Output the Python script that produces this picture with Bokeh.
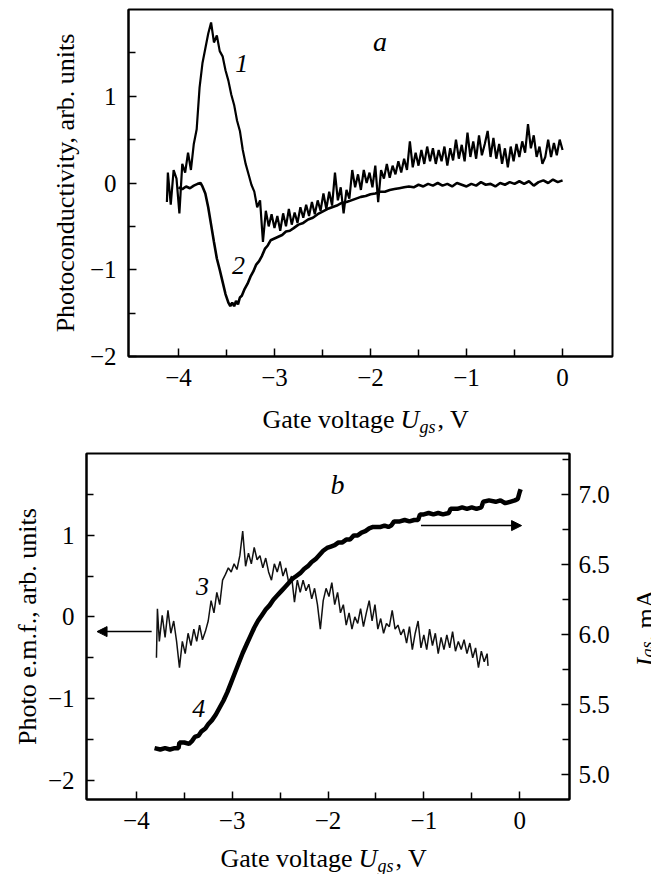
from bokeh.plotting import figure
from bokeh.models import (Range1d, LinearAxis, FixedTicker, CustomJSTickFormatter,
                          Label, Arrow, NormalHead)
from bokeh.layouts import row
from bokeh.core.properties import value
from bokeh.embed import file_html
from bokeh.resources import INLINE

FONT = "Liberation Serif"

# ---------------- data ----------------
# panel a, curve 1: photoconductivity (x = gate voltage, V)
curve1 = [(-4.12, -0.22), (-4.11, 0.12), (-4.08, -0.25), (-4.05, 0.15), (-4.02, 0.05),
          (-3.99, -0.35), (-3.96, 0.22), (-3.93, 0.12), (-3.90, 0.35), (-3.87, 0.15),
          (-3.84, 0.45), (-3.81, 0.62), (-3.78, 1.10), (-3.75, 1.38), (-3.72, 1.55),
          (-3.69, 1.72), (-3.66, 1.85), (-3.63, 1.62), (-3.60, 1.70), (-3.57, 1.52),
          (-3.54, 1.46), (-3.51, 1.30), (-3.48, 1.18), (-3.45, 1.02), (-3.42, 0.90),
          (-3.39, 0.72), (-3.36, 0.60), (-3.33, 0.38), (-3.30, 0.22), (-3.27, 0.10),
          (-3.24, -0.02), (-3.21, -0.10), (-3.18, -0.28), (-3.15, -0.20), (-3.12, -0.68),
          (-3.09, -0.32), (-3.06, -0.50), (-3.03, -0.36), (-3.00, -0.52), (-2.97, -0.38),
          (-2.94, -0.55), (-2.91, -0.35), (-2.88, -0.50), (-2.85, -0.30), (-2.82, -0.48),
          (-2.79, -0.34), (-2.76, -0.46), (-2.73, -0.28), (-2.70, -0.40), (-2.67, -0.25),
          (-2.64, -0.38), (-2.61, -0.22), (-2.58, -0.36), (-2.55, -0.20), (-2.52, -0.32),
          (-2.49, -0.12), (-2.46, -0.30), (-2.43, -0.10), (-2.40, -0.26), (-2.37, 0.12),
          (-2.34, -0.20), (-2.31, -0.05), (-2.28, -0.35), (-2.25, -0.08), (-2.22, -0.18),
          (-2.19, 0.15), (-2.16, -0.05), (-2.13, 0.10), (-2.10, -0.08), (-2.07, 0.15),
          (-2.04, 0.00), (-2.01, 0.12), (-1.98, -0.05), (-1.95, 0.20), (-1.92, -0.22),
          (-1.89, 0.15), (-1.86, 0.05), (-1.83, 0.22), (-1.80, 0.06), (-1.77, 0.20),
          (-1.74, 0.10), (-1.71, 0.25), (-1.68, 0.12), (-1.65, 0.28), (-1.62, 0.15),
          (-1.59, 0.48), (-1.56, 0.18), (-1.53, 0.35), (-1.50, 0.20), (-1.47, 0.38),
          (-1.44, 0.22), (-1.41, 0.42), (-1.38, 0.25), (-1.35, 0.40), (-1.32, 0.22),
          (-1.29, 0.38), (-1.26, 0.25), (-1.23, 0.42), (-1.20, 0.20), (-1.17, 0.40),
          (-1.14, 0.26), (-1.11, 0.50), (-1.08, 0.28), (-1.05, 0.44), (-1.02, 0.25),
          (-0.99, 0.58), (-0.96, 0.30), (-0.93, 0.48), (-0.90, 0.28), (-0.87, 0.55),
          (-0.84, 0.32), (-0.81, 0.45), (-0.78, 0.60), (-0.75, 0.30), (-0.72, 0.52),
          (-0.69, 0.28), (-0.66, 0.45), (-0.63, 0.22), (-0.60, 0.40), (-0.57, 0.18),
          (-0.54, 0.42), (-0.51, 0.25), (-0.48, 0.45), (-0.45, 0.30), (-0.42, 0.48),
          (-0.39, 0.35), (-0.36, 0.68), (-0.33, 0.40), (-0.30, 0.55), (-0.27, 0.30),
          (-0.24, 0.42), (-0.21, 0.22), (-0.18, 0.30), (-0.15, 0.50), (-0.12, 0.30),
          (-0.09, 0.46), (-0.06, 0.32), (-0.03, 0.50), (0.00, 0.38)]

# panel a, curve 2
curve2 = [(-4.00, -0.05), (-3.96, -0.07), (-3.92, -0.04), (-3.88, -0.06), (-3.84, -0.03),
          (-3.80, -0.01), (-3.77, 0.00), (-3.75, -0.04), (-3.72, -0.12), (-3.69, -0.28),
          (-3.66, -0.48), (-3.63, -0.68), (-3.60, -0.87), (-3.57, -1.00), (-3.54, -1.14),
          (-3.51, -1.28), (-3.48, -1.38), (-3.46, -1.42), (-3.44, -1.38), (-3.42, -1.42),
          (-3.40, -1.36), (-3.38, -1.40), (-3.36, -1.32), (-3.34, -1.30), (-3.31, -1.22),
          (-3.28, -1.16), (-3.25, -1.08), (-3.22, -1.02), (-3.19, -0.94), (-3.16, -0.90),
          (-3.13, -0.84), (-3.10, -0.76), (-3.07, -0.72), (-3.04, -0.66), (-3.00, -0.64),
          (-2.96, -0.62), (-2.92, -0.60), (-2.88, -0.56), (-2.84, -0.55), (-2.80, -0.52),
          (-2.75, -0.48), (-2.70, -0.46), (-2.65, -0.42), (-2.60, -0.40), (-2.55, -0.36),
          (-2.50, -0.33), (-2.45, -0.30), (-2.40, -0.28), (-2.35, -0.26), (-2.30, -0.23),
          (-2.25, -0.22), (-2.20, -0.20), (-2.15, -0.18), (-2.10, -0.16), (-2.05, -0.15),
          (-2.00, -0.13), (-1.95, -0.12), (-1.90, -0.10), (-1.85, -0.10), (-1.80, -0.08),
          (-1.75, -0.07), (-1.70, -0.06), (-1.65, -0.05), (-1.60, -0.04), (-1.55, -0.05),
          (-1.50, -0.02), (-1.45, -0.04), (-1.40, -0.01), (-1.35, -0.03), (-1.30, 0.00),
          (-1.25, -0.03), (-1.20, -0.01), (-1.15, -0.04), (-1.10, 0.00), (-1.05, -0.02),
          (-1.00, -0.04), (-0.95, -0.01), (-0.90, -0.03), (-0.85, 0.01), (-0.80, -0.02),
          (-0.75, -0.01), (-0.70, -0.04), (-0.65, 0.00), (-0.60, -0.02), (-0.55, 0.01),
          (-0.50, -0.01), (-0.45, 0.02), (-0.40, -0.01), (-0.35, 0.02), (-0.30, -0.03),
          (-0.25, 0.01), (-0.20, 0.03), (-0.15, 0.00), (-0.10, 0.04), (-0.05, 0.01),
          (0.00, 0.03)]

# panel b, curve 3: photo e.m.f. (left axis)
curve3 = [(-3.79, -0.50), (-3.78, 0.10), (-3.76, -0.30), (-3.73, 0.02), (-3.70, -0.25),
          (-3.67, 0.08), (-3.64, -0.20), (-3.61, -0.05), (-3.58, -0.30), (-3.55, -0.62),
          (-3.52, -0.30), (-3.49, -0.45), (-3.46, -0.20), (-3.43, -0.35), (-3.40, -0.15),
          (-3.37, -0.30), (-3.34, -0.10), (-3.31, -0.28), (-3.28, -0.18), (-3.25, -0.05),
          (-3.22, 0.20), (-3.19, 0.05), (-3.16, 0.30), (-3.13, 0.15), (-3.10, 0.45),
          (-3.07, 0.52), (-3.04, 0.60), (-3.01, 0.55), (-2.98, 0.65), (-2.95, 0.58),
          (-2.92, 0.75), (-2.89, 1.05), (-2.86, 0.62), (-2.83, 0.78), (-2.80, 0.65),
          (-2.77, 0.85), (-2.74, 0.70), (-2.71, 0.75), (-2.68, 0.60), (-2.65, 0.72),
          (-2.62, 0.55), (-2.59, 0.45), (-2.56, 0.65), (-2.53, 0.55), (-2.50, 0.68),
          (-2.47, 0.50), (-2.44, 0.60), (-2.41, 0.42), (-2.38, 0.50), (-2.35, 0.18),
          (-2.32, 0.45), (-2.29, 0.30), (-2.26, 0.45), (-2.23, 0.32), (-2.20, 0.40),
          (-2.17, 0.22), (-2.14, 0.35), (-2.11, 0.15), (-2.08, -0.15), (-2.05, 0.20),
          (-2.02, 0.35), (-1.99, 0.25), (-1.96, 0.42), (-1.93, 0.15), (-1.90, 0.30),
          (-1.87, 0.05), (-1.84, 0.15), (-1.81, -0.10), (-1.78, 0.05), (-1.75, -0.15),
          (-1.72, 0.00), (-1.69, -0.08), (-1.66, 0.10), (-1.63, -0.12), (-1.60, 0.05),
          (-1.57, 0.20), (-1.54, -0.05), (-1.51, 0.15), (-1.48, -0.15), (-1.45, -0.02),
          (-1.42, -0.20), (-1.39, -0.08), (-1.36, -0.12), (-1.33, 0.08), (-1.30, -0.15),
          (-1.27, -0.10), (-1.24, -0.22), (-1.21, -0.15), (-1.18, -0.32), (-1.15, -0.12),
          (-1.12, -0.40), (-1.09, -0.20), (-1.06, -0.05), (-1.03, -0.38), (-1.00, -0.22),
          (-0.97, -0.40), (-0.94, -0.15), (-0.91, -0.35), (-0.88, -0.20), (-0.85, -0.45),
          (-0.82, -0.25), (-0.79, -0.40), (-0.76, -0.22), (-0.73, -0.38), (-0.70, -0.18),
          (-0.67, -0.42), (-0.64, -0.30), (-0.61, -0.40), (-0.58, -0.28), (-0.55, -0.45),
          (-0.52, -0.32), (-0.49, -0.50), (-0.46, -0.38), (-0.43, -0.62), (-0.40, -0.42),
          (-0.37, -0.55), (-0.34, -0.45), (-0.33, -0.60)]

# panel b, curve 4: gate current I_gs, mA (right axis)
curve4 = [(-3.81, 5.19), (-3.75, 5.18), (-3.70, 5.19), (-3.65, 5.18), (-3.60, 5.19),
          (-3.56, 5.19), (-3.55, 5.23), (-3.50, 5.23), (-3.45, 5.22), (-3.42, 5.24),
          (-3.39, 5.27), (-3.35, 5.28), (-3.32, 5.31), (-3.28, 5.33), (-3.25, 5.36),
          (-3.21, 5.39), (-3.17, 5.43), (-3.13, 5.48), (-3.09, 5.53), (-3.05, 5.59),
          (-3.01, 5.66), (-2.97, 5.73), (-2.93, 5.80), (-2.89, 5.87), (-2.85, 5.93),
          (-2.81, 5.99), (-2.77, 6.05), (-2.73, 6.10), (-2.69, 6.14), (-2.65, 6.18),
          (-2.61, 6.21), (-2.57, 6.25), (-2.53, 6.28), (-2.49, 6.31), (-2.45, 6.34),
          (-2.41, 6.37), (-2.37, 6.40), (-2.33, 6.42), (-2.29, 6.44), (-2.25, 6.47),
          (-2.21, 6.49), (-2.17, 6.52), (-2.13, 6.54), (-2.09, 6.57), (-2.05, 6.60),
          (-2.01, 6.62), (-1.97, 6.63), (-1.93, 6.64), (-1.89, 6.66), (-1.85, 6.66),
          (-1.81, 6.68), (-1.77, 6.68), (-1.73, 6.71), (-1.69, 6.71), (-1.65, 6.73),
          (-1.61, 6.74), (-1.57, 6.76), (-1.53, 6.77), (-1.49, 6.77), (-1.45, 6.77),
          (-1.41, 6.78), (-1.37, 6.77), (-1.34, 6.78), (-1.31, 6.81), (-1.25, 6.81),
          (-1.20, 6.82), (-1.15, 6.81), (-1.10, 6.82), (-1.06, 6.82), (-1.04, 6.86),
          (-1.00, 6.86), (-0.95, 6.87), (-0.90, 6.86), (-0.85, 6.87), (-0.80, 6.86),
          (-0.74, 6.87), (-0.72, 6.90), (-0.65, 6.90), (-0.60, 6.91), (-0.55, 6.90),
          (-0.50, 6.91), (-0.45, 6.90), (-0.40, 6.91), (-0.38, 6.95), (-0.32, 6.96),
          (-0.25, 6.95), (-0.20, 6.96), (-0.15, 6.94), (-0.10, 6.95), (-0.05, 6.96),
          (-0.02, 6.97), (0.00, 7.02), (0.01, 7.04)]

x_ticks = [-4, -3, -2, -1, 0]
x_minor = [-3.5, -2.5, -1.5, -0.5]
ya_ticks = [-2, -1, 0, 1]
ya_minor = [-1.5, -0.5, 0.5, 1.5]
yb_ticks = [-2, -1, 0, 1]
yb_minor = [-1.5, -0.5, 0.5, 1.5]
yr_ticks = [5.0, 5.5, 6.0, 6.5, 7.0]
yr_minor = [5.25, 5.75, 6.25, 6.75, 7.25]

xa_range = (-4.52, 0.52)
ya_range = (-2.0, 2.0)
yb_range = (-2.235, 2.0)
yr_range = (4.823, 7.295)


# ---------------- helpers ----------------
def fmt(d):
    return CustomJSTickFormatter(code="const s = Math.abs(tick).toFixed(%d);"
                                      "return (tick < -1e-9 ? '\\u2212' : '') + s;" % d)


def style_axis(ax, ticks, minor, digits, standoff=12):
    ax.ticker = FixedTicker(ticks=ticks, minor_ticks=minor)
    ax.formatter = fmt(digits)
    ax.major_label_text_font = FONT
    ax.major_label_text_font_size = "25px"
    ax.major_label_text_color = "black"
    ax.major_label_standoff = standoff
    ax.axis_line_color = "black"
    ax.axis_line_width = 2
    ax.major_tick_in = 8
    ax.major_tick_out = 0
    ax.minor_tick_in = 7
    ax.minor_tick_out = 0
    ax.major_tick_line_color = "black"
    ax.major_tick_line_width = 1.5
    ax.minor_tick_line_color = "black"
    ax.minor_tick_line_width = 1.5
    ax.axis_label_text_font = FONT
    ax.axis_label_text_font_size = "26px"
    ax.axis_label_text_font_style = "normal"
    ax.axis_label_text_color = "black"


def plain_fig(w, h, xr, yr, bt=0, bb=0):
    f = figure(width=w, height=h, x_range=Range1d(*xr), y_range=Range1d(*yr),
               output_backend="svg", toolbar_location=None,
               x_axis_location=None, y_axis_location=None,
               min_border_left=0, min_border_right=0, min_border_top=bt, min_border_bottom=bb)
    f.grid.visible = False
    f.outline_line_color = None
    f.background_fill_color = "white"
    f.border_fill_color = "white"
    return f


def txt(f, s, x, y, size="26px", style="normal", angle=0.0):
    f.text(x=[x], y=[y], text=[s], text_font=value(FONT), text_font_size=value(size),
           text_font_style=style, text_color="black", text_align="left",
           text_baseline="alphabetic", angle=angle)


def gate_label(f, x0, yb):
    # "Gate voltage U_gs, V" (italic U, italic subscript gs)
    txt(f, "Gate voltage", x0, yb)
    txt(f, "U", x0 + 138, yb, style="italic")
    txt(f, "gs", x0 + 157, yb - 7, size="18px", style="italic")
    txt(f, ", V", x0 + 175, yb)


def dlabel(p, text, x, y, size="26px", y_range_name="default"):
    p.add_layout(Label(x=x, y=y, text=text, text_font=FONT, text_font_size=size,
                       text_font_style="italic", text_color="black", text_align="center",
                       text_baseline="middle", y_range_name=y_range_name))


# ---------------- panel a ----------------
pa = figure(width=651, height=400, x_range=Range1d(*xa_range), y_range=Range1d(*ya_range),
            output_backend="svg", toolbar_location=None,
            min_border_left=128, min_border_right=39, min_border_top=9, min_border_bottom=44)
pa.grid.visible = False
pa.outline_line_color = "black"
pa.outline_line_width = 2
pa.outline_line_alpha = 1
pa.background_fill_color = "white"
pa.border_fill_color = "white"
style_axis(pa.xaxis[0], x_ticks, x_minor, 0)
style_axis(pa.yaxis[0], ya_ticks, ya_minor, 0)
pa.xaxis[0].axis_label = None
pa.yaxis[0].axis_label = "Photoconductivity, arb. units"
pa.yaxis[0].axis_label_standoff = 7

x1, y1 = zip(*curve1)
x2, y2 = zip(*curve2)
pa.line(list(x1), list(y1), line_color="black", line_width=2.2)
pa.line(list(x2), list(y2), line_color="black", line_width=2.6)

dlabel(pa, "1", -3.34, 1.38)
dlabel(pa, "2", -3.375, -0.95)
dlabel(pa, "a", -1.9, 1.63, size="28px")

# x-axis title strip under panel a (pixel coordinates)
la = plain_fig(651, 40, (0, 651), (0, 40))
gate_label(la, 262, 21)

# ---------------- panel b ----------------
pb = figure(width=612, height=403, x_range=Range1d(*xa_range), y_range=Range1d(*yb_range),
            output_backend="svg", toolbar_location=None,
            min_border_left=86, min_border_right=42, min_border_top=13, min_border_bottom=44)
pb.grid.visible = False
pb.outline_line_color = "black"
pb.outline_line_width = 2
pb.outline_line_alpha = 1
pb.background_fill_color = "white"
pb.border_fill_color = "white"
pb.extra_y_ranges = {"I": Range1d(*yr_range)}
style_axis(pb.xaxis[0], x_ticks, x_minor, 0)
style_axis(pb.yaxis[0], yb_ticks, yb_minor, 0)
pb.xaxis[0].axis_label = None
pb.yaxis[0].axis_label = "Photo e.m.f., arb. units"
pb.yaxis[0].axis_label_standoff = 3
ax_r = LinearAxis(y_range_name="I")
style_axis(ax_r, yr_ticks, yr_minor, 1, standoff=9)
ax_r.axis_label = None
pb.add_layout(ax_r, "right")

x3, y3 = zip(*curve3)
x4, y4 = zip(*curve4)
pb.line(list(x3), list(y3), line_color="#111111", line_width=1.5)
pb.line(list(x4), list(y4), line_color="black", line_width=4.5, y_range_name="I")

pb.add_layout(Arrow(end=NormalHead(size=10, fill_color="black", line_color="black"),
                    x_start=-3.84, y_start=-0.18, x_end=-4.41, y_end=-0.18,
                    line_color="black", line_width=1.5))
pb.add_layout(Arrow(end=NormalHead(size=10, fill_color="black", line_color="black"),
                    x_start=-1.03, y_start=6.78, x_end=0.02, y_end=6.78,
                    line_color="black", line_width=1.5, y_range_name="I"))

dlabel(pb, "3", -3.31, 0.37)
dlabel(pb, "4", -3.35, -1.12)
dlabel(pb, "b", -1.9, 1.62, size="28px")

# right-axis title strip "I_gs, mA" (rotated; pixel coordinates inside the strip)
rb = plain_fig(39, 403, (0, 39), (0, 346), bt=13, bb=44)
txt(rb, "I", 33, 133, style="italic", angle=1.5708)
txt(rb, "gs", 35, 142, size="18px", style="italic", angle=1.5708)
txt(rb, ", mA", 33, 158, angle=1.5708)

# x-axis title strip under panel b
lb = plain_fig(651, 31, (0, 651), (0, 31))
gate_label(lb, 220, 16)

open("out.html", "w", encoding="utf-8").write(file_html([pa, la, row(pb, rb), lb], INLINE))
